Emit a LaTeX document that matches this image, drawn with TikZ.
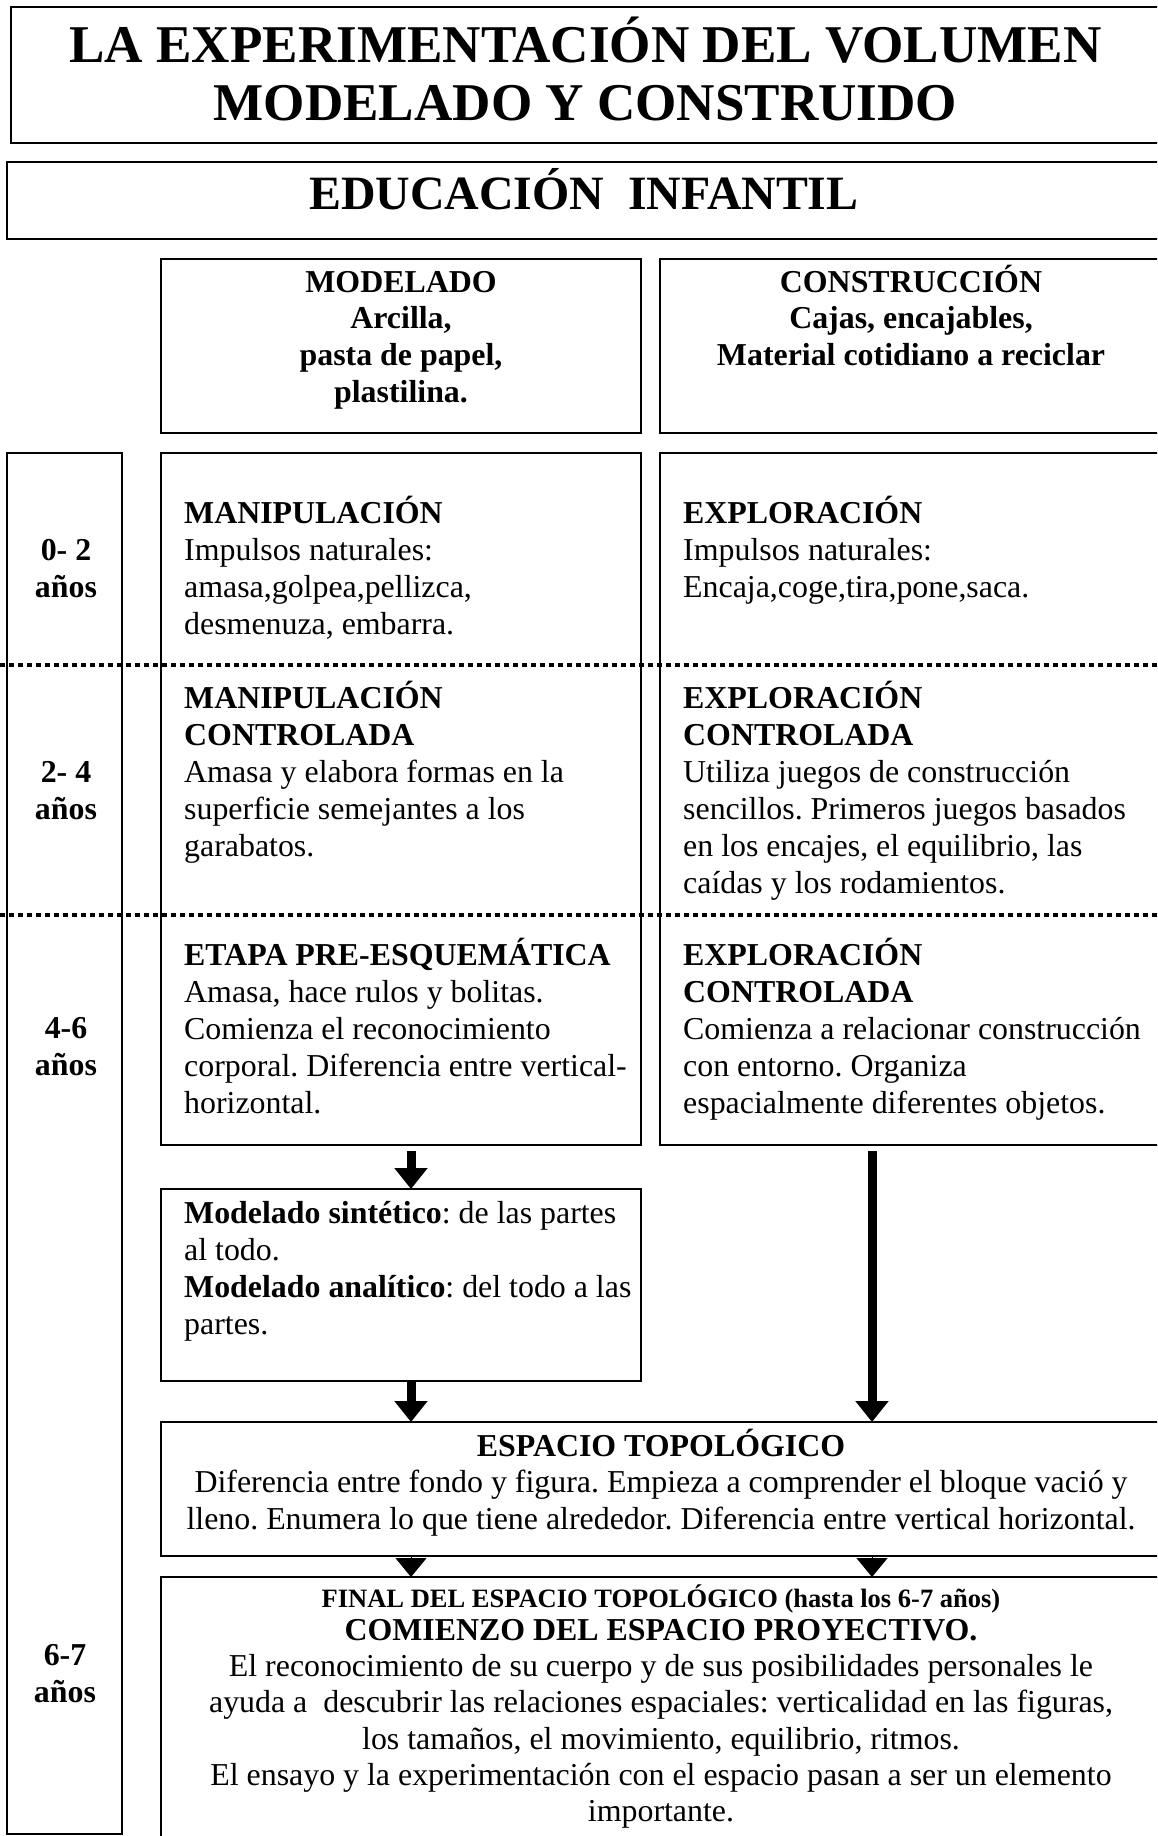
\documentclass[tikz,border=0pt]{standalone}
\usepackage{fontspec}
\setmainfont{Liberation Serif}
\usetikzlibrary{arrows.meta}
\frenchspacing
\newcommand\linesL[1]{\vtop{\halign{##\hfil\cr#1\crcr}}}
\newcommand\linesC[1]{\vtop{\halign{\hfil##\hfil\cr#1\crcr}}}
\begin{document}
\begin{tikzpicture}[x=1bp,y=-1bp,
  box/.style={draw, line width=2.5bp, inner sep=0pt, outer sep=0pt, anchor=north west},
  txtL/.style={inner sep=0pt, anchor=base west, font=\fontsize{32}{37.3}\selectfont},
  txtC/.style={inner sep=0pt, anchor=base, font=\fontsize{32}{37.3}\selectfont},
  agetxt/.style={inner sep=0pt, anchor=base, font=\fontsize{32}{37.3}\selectfont\bfseries},
  dotline/.style={line width=4.5bp, dash pattern=on 4.5bp off 4.5bp},
  bigarrow/.style={line width=9bp, -{Triangle[width=32bp,length=21bp]}},
  tri/.style={line width=1bp, -{Triangle[width=31bp,length=19bp]}}]
\clip (0,0) rectangle (1157,1836);
% boxes
\node[box, minimum width=1151bp, minimum height=136bp] (title) at (11,7) {};
\node[box, minimum width=1155bp, minimum height=77bp] (edu) at (7,162) {};
\node[box, minimum width=480bp, minimum height=174bp] (modbox) at (161,259) {};
\node[box, minimum width=502bp, minimum height=174bp] (conbox) at (660,259) {};
\node[box, minimum width=115bp, minimum height=1381bp] (ages) at (7,453) {};
\node[box, minimum width=480bp, minimum height=692bp] (colL) at (161,453) {};
\node[box, minimum width=502bp, minimum height=692bp] (colR) at (660,453) {};
\node[box, minimum width=480bp, minimum height=192bp] (sint) at (161,1189) {};
\node[box, minimum width=1001bp, minimum height=134bp] (esp) at (161,1422) {};
\node[box, minimum width=1001bp, minimum height=272bp] (final) at (161,1577) {};
% separators
\draw[dotline] (0,665) -- (1157,665);
\draw[dotline] (0,915) -- (1157,915);
% titles
\node[inner sep=0pt, anchor=base, font=\fontsize{53.3}{59}\selectfont\bfseries] (ttl) at (585.5,62)
  {\linesC{LA EXPERIMENTACIÓN DEL VOLUMEN\cr MODELADO Y CONSTRUIDO}};
\node[inner sep=0pt, anchor=base, font=\fontsize{48}{56}\selectfont\bfseries] (edut) at (584,209)
  {EDUCACIÓN\ \ INFANTIL};
\node[txtC, font=\fontsize{32}{37}\selectfont\bfseries] (modt) at (401,292)
  {\linesC{MODELADO\cr Arcilla,\cr pasta de papel,\cr plastilina.}};
\node[txtC, font=\fontsize{32}{37}\selectfont\bfseries] (cont) at (911,292)
  {\linesC{CONSTRUCCIÓN\cr Cajas, encajables,\cr Material cotidiano a reciclar}};
% row texts
\node[txtL] (r1L) at (184,523)
  {\linesL{\textbf{MANIPULACIÓN}\cr Impulsos naturales:\cr amasa,golpea,pellizca,\cr desmenuza, embarra.}};
\node[txtL] (r1R) at (683,523)
  {\linesL{\textbf{EXPLORACIÓN}\cr Impulsos naturales:\cr Encaja,coge,tira,pone,saca.}};
\node[txtL] (r2L) at (184,708)
  {\linesL{\textbf{MANIPULACIÓN}\cr \textbf{CONTROLADA}\cr Amasa y elabora formas en la\cr superficie semejantes a los\cr garabatos.}};
\node[txtL] (r2R) at (683,708)
  {\linesL{\textbf{EXPLORACIÓN}\cr \textbf{CONTROLADA}\cr Utiliza juegos de construcción\cr sencillos. Primeros juegos basados\cr en los encajes, el equilibrio, las\cr caídas y los rodamientos.}};
\node[txtL] (r3L) at (184,965)
  {\linesL{\textbf{ETAPA PRE-ESQUEMÁTICA}\cr Amasa, hace rulos y bolitas.\cr Comienza el reconocimiento\cr corporal. Diferencia entre vertical-\cr horizontal.}};
\node[txtL] (r3R) at (683,965)
  {\linesL{\textbf{EXPLORACIÓN}\cr \textbf{CONTROLADA}\cr Comienza a relacionar construcción\cr con entorno. Organiza\cr espacialmente diferentes objetos.}};
\node[txtL] (sintt) at (184,1223)
  {\linesL{\textbf{Modelado sintético}: de las partes\cr al todo.\cr \textbf{Modelado analítico}: del todo a las\cr partes.}};
% ages
\node[agetxt] (a1) at (66,560) {\linesC{0- 2\cr años}};
\node[agetxt] (a2) at (66,782) {\linesC{2- 4\cr años}};
\node[agetxt] (a3) at (66,1038) {\linesC{4-6\cr años}};
\node[agetxt, font=\fontsize{32}{38}\selectfont\bfseries] (a4) at (65,1665) {\linesC{6-7\cr años}};
% espacio
\node[txtC, font=\fontsize{32}{37}\selectfont] (espt) at (661,1456)
  {\linesC{\textbf{ESPACIO TOPOLÓGICO}\cr Diferencia entre fondo y figura. Empieza a comprender el bloque vació y\cr lleno. Enumera lo que tiene alrededor. Diferencia entre vertical horizontal.}};
\node[txtC, font=\fontsize{26.6}{30}\selectfont\bfseries] (finA) at (661,1607)
  {FINAL DEL ESPACIO TOPOLÓGICO (hasta los 6-7 años)};
\node[txtC, font=\fontsize{32}{36.5}\selectfont] (finB) at (661,1640)
  {\linesC{\textbf{COMIENZO DEL ESPACIO PROYECTIVO.}\cr El reconocimiento de su cuerpo y de sus posibilidades personales le\cr ayuda a\ \ descubrir las relaciones espaciales: verticalidad en las figuras,\cr los tamaños, el movimiento, equilibrio, ritmos.\cr El ensayo y la experimentación con el espacio pasan a ser un elemento\cr importante.}};
% arrows
\coordinate (ax) at (411,0);
\coordinate (bx) at (872,0);
\draw[bigarrow, shorten <=6bp] (colL.south -| ax) -- (sint.north -| ax);
\draw[bigarrow] (sint.south -| ax) -- (esp.north -| ax);
\draw[bigarrow, shorten <=6bp] (colR.south -| bx) -- (esp.north -| bx);
\draw[tri] (esp.south -| ax) -- (final.north -| ax);
\draw[tri] (esp.south -| bx) -- (final.north -| bx);
\end{tikzpicture}
\end{document}
